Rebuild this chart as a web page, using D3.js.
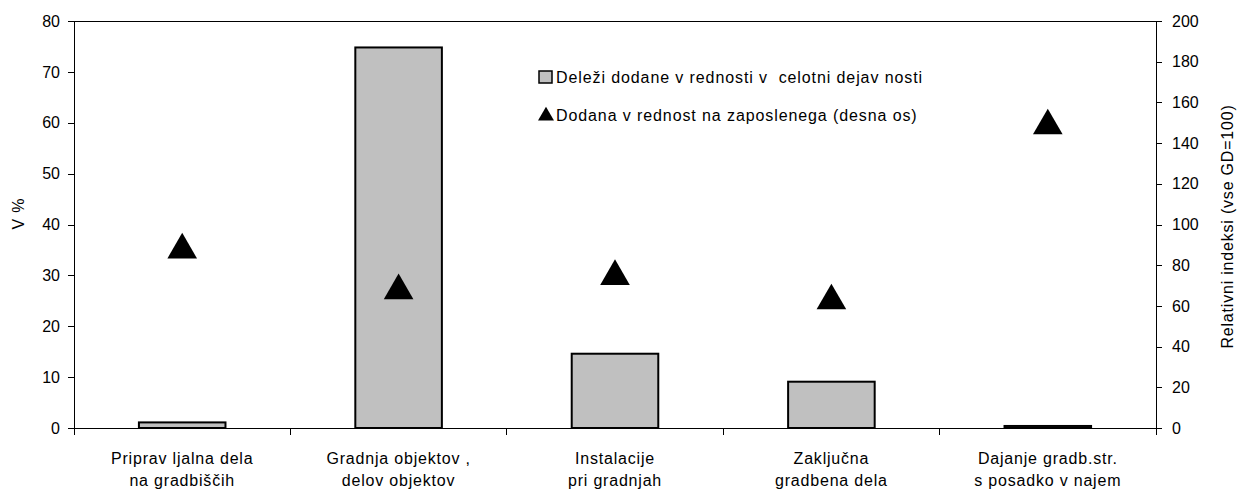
<!DOCTYPE html>
<meta charset='utf-8'>
<style>
    body {
        margin: 0;
        background: #fff;
        font-family: 'Liberation Sans', Arial, sans-serif;
    }

    .axis path,
    .axis line {
        fill: none;
        stroke: #000;
        shape-rendering: crispEdges;
    }

    .axis text {
        font-size: 16px;
        fill: #000;
    }

    .bar {
        fill: #c0c0c0;
        stroke: #000;
        stroke-width: 2;
    }

    .spaced {
        letter-spacing: 0.8px;
    }
</style>
<body>
    <script src='https://d3js.org/d3.v7.min.js'></script>
    <script>
        // Data
        const categories = [
            [ 'Priprav ljalna dela', 'na gradbiščih' ],
            [ 'Gradnja objektov ,', 'delov objektov' ],
            [ 'Instalacije', 'pri gradnjah' ],
            [ 'Zaključna', 'gradbena dela' ],
            [ 'Dajanje gradb.str.', 's posadko v najem' ]
        ];
        const shareValues = [ 1.1, 74.8, 14.6, 9.1, 0.4 ];
        const indexValues = [ 89, 69, 76, 64, 150 ];
        const leftTicks = [ 0, 10, 20, 30, 40, 50, 60, 70, 80 ];
        const rightTicks = [ 0, 20, 40, 60, 80, 100, 120, 140, 160, 180, 200 ];
        const seriesNames = [
            'Deleži dodane v rednosti v  celotni dejav nosti',
            'Dodana v rednost na zaposlenega (desna os)'
        ];

        let margin = { top: 21, right: 82, bottom: 64, left: 74 },
            width = 1238 - margin.left - margin.right,
            height = 492 - margin.top - margin.bottom;

        let svg = d3.select( 'body' ).append( 'svg' )
            .attr( 'width', 1238 )
            .attr( 'height', 492 )
            .append( 'g' )
            .attr( 'transform', `translate( ${margin.left}, ${margin.top} )` );

        // Scales
        let xScale = d3.scaleBand()
            .domain( d3.range( categories.length ) )
            .range( [ 0, width ] );
        let yLeft = d3.scaleLinear()
            .domain( [ 0, 80 ] )
            .range( [ height, 0 ] );
        let yRight = d3.scaleLinear()
            .domain( [ 0, 200 ] )
            .range( [ height, 0 ] );
        const barWidth = xScale.bandwidth() / 2.5;

        // Plot frame top
        svg.append( 'line' )
            .attr( 'x1', 0 ).attr( 'x2', width )
            .attr( 'y1', 0.5 ).attr( 'y2', 0.5 )
            .attr( 'stroke', '#000' );

        // Axes
        svg.append( 'g' )
            .attr( 'class', 'y axis' )
            .call( d3.axisLeft( yLeft ).tickValues( leftTicks ).tickSize( 6 ).tickPadding( 8 ).tickSizeOuter( 0 ) );

        svg.append( 'g' )
            .attr( 'class', 'y axis' )
            .attr( 'transform', `translate( ${width}, 0 )` )
            .call( d3.axisRight( yRight ).tickValues( rightTicks ).tickSize( 6 ).tickPadding( 10 ).tickSizeOuter( 0 ) );

        let xAxis = svg.append( 'g' )
            .attr( 'class', 'x axis' )
            .attr( 'transform', `translate( 0, ${height} )` );
        xAxis.append( 'line' )
            .attr( 'x1', 0 ).attr( 'x2', width )
            .attr( 'stroke', '#000' )
            .attr( 'shape-rendering', 'crispEdges' );
        xAxis.selectAll( '.tick' )
            .data( d3.range( categories.length + 1 ) )
            .enter().append( 'line' )
                .attr( 'class', 'tick' )
                .attr( 'x1', d => d * xScale.step() )
                .attr( 'x2', d => d * xScale.step() )
                .attr( 'y1', 0 ).attr( 'y2', 7 )
                .attr( 'stroke', '#000' )
                .attr( 'shape-rendering', 'crispEdges' );
        let xLabels = xAxis.selectAll( '.xlabel' )
            .data( categories )
            .enter().append( 'text' )
                .attr( 'class', 'xlabel spaced' )
                .attr( 'text-anchor', 'middle' )
                .attr( 'font-size', 16 )
                .attr( 'transform', ( d, i ) => `translate( ${xScale( i ) + xScale.bandwidth() / 2}, 0 )` );
        xLabels.selectAll( 'tspan' )
            .data( d => d )
            .enter().append( 'tspan' )
                .attr( 'x', 0 )
                .attr( 'y', ( d, i ) => 36 + i * 22 )
                .text( d => d );

        // Axis titles
        svg.append( 'text' )
            .attr( 'class', 'spaced' )
            .attr( 'transform', `translate( ${-50}, ${height / 2 - 11} ) rotate(-90)` )
            .attr( 'text-anchor', 'middle' )
            .attr( 'font-size', 16 )
            .text( 'V %' );
        svg.append( 'text' )
            .attr( 'class', 'spaced' )
            .attr( 'transform', `translate( ${width + 77}, ${height / 2 + 2} ) rotate(-90)` )
            .attr( 'text-anchor', 'middle' )
            .attr( 'font-size', 16 )
            .text( 'Relativni indeksi (vse GD=100)' );

        // Bars
        svg.selectAll( '.bar' )
            .data( shareValues )
            .enter().append( 'rect' )
                .attr( 'class', 'bar' )
                .attr( 'x', ( d, i ) => xScale( i ) + ( xScale.bandwidth() - barWidth ) / 2 )
                .attr( 'y', d => yLeft( d ) )
                .attr( 'width', barWidth )
                .attr( 'height', d => height - yLeft( d ) );

        // Triangles
        const tri = d3.symbol().type( d3.symbolTriangle ).size( 380 );
        svg.selectAll( '.tri' )
            .data( indexValues )
            .enter().append( 'path' )
                .attr( 'class', 'tri' )
                .attr( 'd', tri )
                .attr( 'fill', '#000' )
                .attr( 'transform', ( d, i ) => `translate( ${xScale( i ) + xScale.bandwidth() / 2}, ${yRight( d ) + 3} )` );

        // Legend
        let legend = svg.append( 'g' )
            .attr( 'class', 'legend' )
            .attr( 'transform', 'translate( 464, 0 )' );
        let items = legend.selectAll( '.item' )
            .data( seriesNames )
            .enter().append( 'g' )
                .attr( 'class', 'item' )
                .attr( 'transform', ( d, i ) => `translate( 0, ${56 + i * 38} )` );
        items.filter( ( d, i ) => i === 0 ).append( 'rect' )
            .attr( 'x', 1 ).attr( 'y', -6 )
            .attr( 'width', 13 ).attr( 'height', 12 )
            .attr( 'fill', '#c0c0c0' )
            .attr( 'stroke', '#000' )
            .attr( 'stroke-width', 1.5 );
        items.filter( ( d, i ) => i === 1 ).append( 'path' )
            .attr( 'd', d3.symbol().type( d3.symbolTriangle ).size( 110 ) )
            .attr( 'transform', 'translate( 8, 1 )' )
            .attr( 'fill', '#000' );
        items.append( 'text' )
            .attr( 'x', 18 )
            .attr( 'dy', '.35em' )
            .attr( 'font-size', 16 )
            .style( 'letter-spacing', '0.9px' )
            .style( 'white-space', 'pre' )
            .text( d => d );
    </script>
</body>
